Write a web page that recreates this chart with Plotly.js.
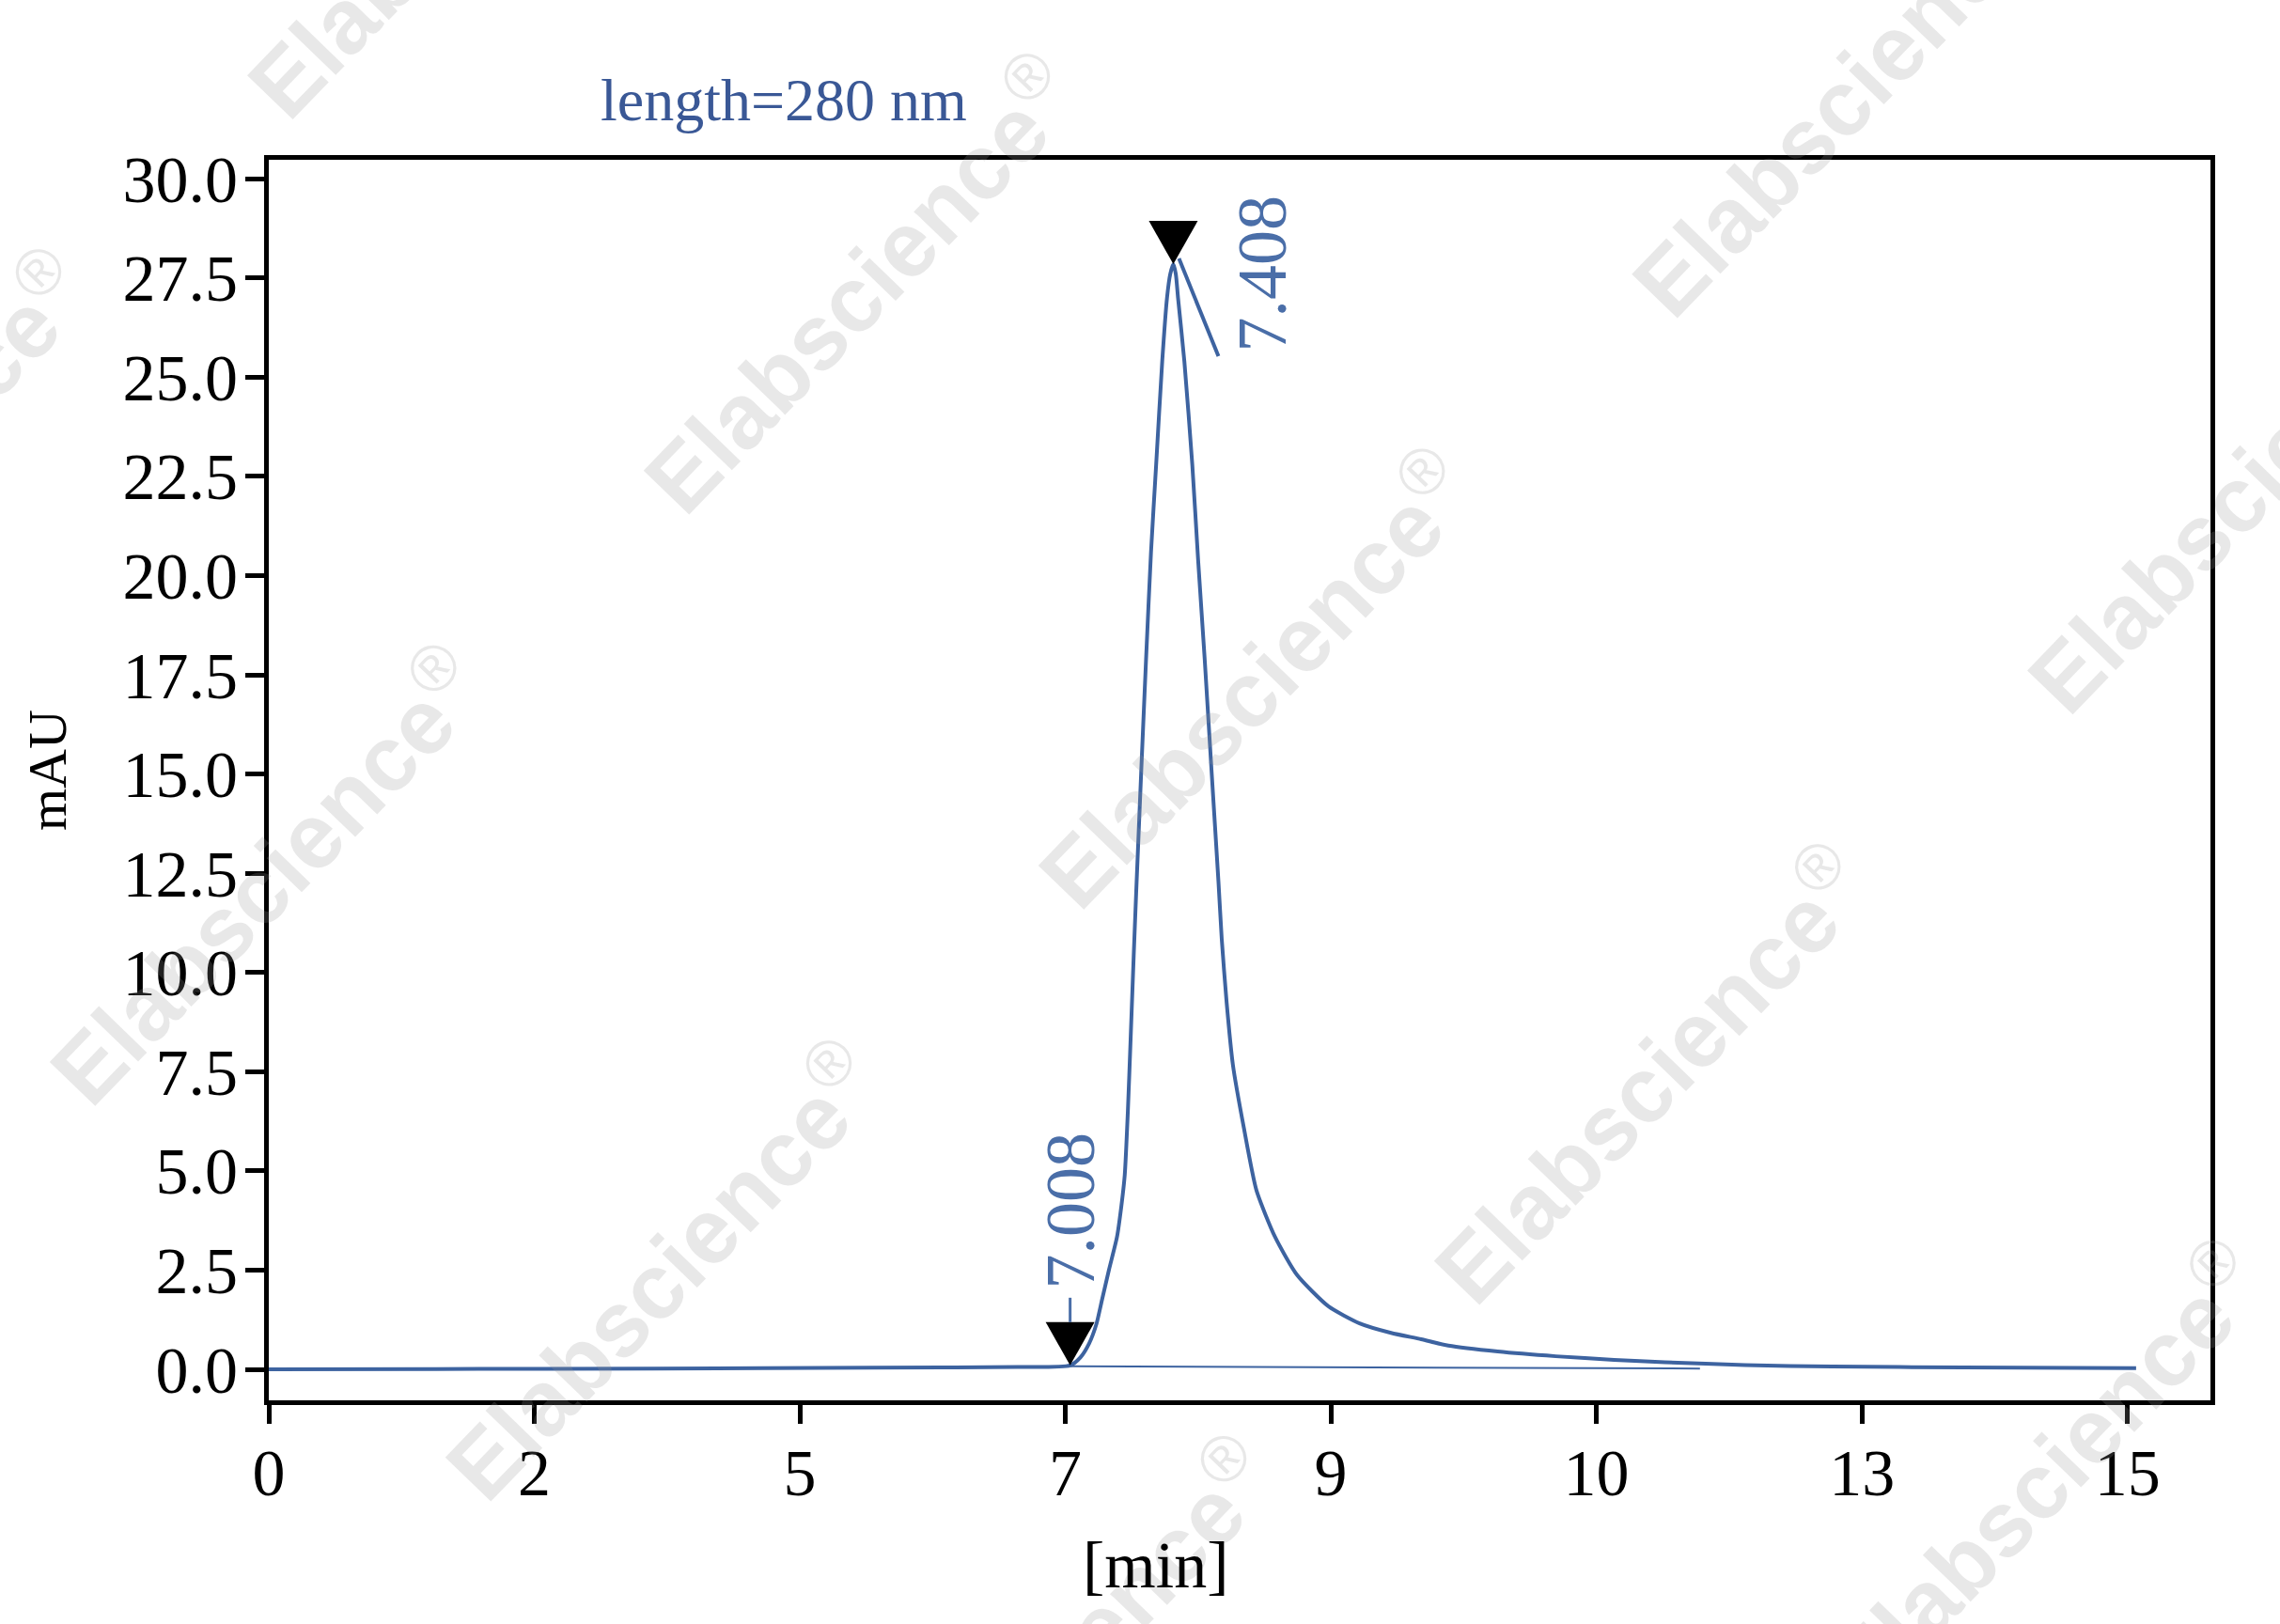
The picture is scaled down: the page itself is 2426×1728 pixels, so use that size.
<!DOCTYPE html>
<html>
<head>
<meta charset="utf-8">
<script src="https://cdn.plot.ly/plotly-3.0.1.min.js"></script>
<style>html,body{margin:0;padding:0;background:#fff;}#chart{width:2426px;height:1728px;}</style>
</head>
<body>
<div id="chart"></div>
<script>
// Chromatogram signal (time in min on the chart's 0–15 scale, absorbance in mAU)
const timeMin = [0.000, 1.35, 3.11, 4.87, 6.04, 6.467, 6.55, 6.62, 6.68, 6.725, 6.78, 6.845, 6.88, 6.908, 6.933,
  6.955, 6.98, 7.00, 7.04, 7.08, 7.12, 7.161, 7.211, 7.249, 7.275, 7.300, 7.320, 7.338, 7.389, 7.453,
  7.50, 7.553, 7.61, 7.664, 7.691, 7.730, 7.781, 7.869, 7.971, 8.122, 8.298, 8.551, 8.803, 9.057,
  9.30, 9.519, 9.918, 10.387, 10.857, 11.268, 11.913, 12.617, 13.674, 15.070];
const absorbance = [0.00, 0.01, 0.02, 0.04, 0.06, 0.10, 0.30, 0.65, 1.15, 1.76, 2.5, 3.33, 4.1, 4.9, 6.5,
  8.3, 10.4, 12.0, 15.0, 17.9, 20.6, 22.78, 25.43, 27.0, 27.6, 27.85, 27.6, 27.0, 25.4, 22.8,
  20.4, 17.9, 15.0, 12.3, 10.83, 9.25, 7.67, 6.09, 4.51, 3.33, 2.38, 1.59, 1.16, 0.92,
  0.76, 0.60, 0.45, 0.33, 0.24, 0.18, 0.11, 0.07, 0.05, 0.03];

// Peak markers
const peakTimes = [6.467, 7.300];
const peakValues = [0.10, 27.85];
const peakLabels = ["7.008", "7.408"];

// Integration baseline
const baselineTime = [6.467, 11.55];
const baselineValue = [0.08, 0.02];

// Axis ticks
const xTickLabels = ["0", "2", "5", "7", "9", "10", "13", "15"];
const yTickValues = [0, 2.5, 5, 7.5, 10, 12.5, 15, 17.5, 20, 22.5, 25, 27.5, 30];

const xMax = 15;
const xTickVals = xTickLabels.map((_, i) => i * xMax / (xTickLabels.length - 1));

const serif = "Liberation Serif, Times New Roman, serif";
const lineBlue = "#3d63a0";
const labelBlue = "#4a6ea8";

const traces = [
  {x: timeMin, y: absorbance, type: "scatter", mode: "lines",
   line: {color: lineBlue, width: 4, shape: "spline", smoothing: 0.6}, hoverinfo: "skip", showlegend: false},
  {x: baselineTime, y: baselineValue, type: "scatter", mode: "lines",
   line: {color: lineBlue, width: 2}, hoverinfo: "skip", showlegend: false}
];

// Watermark positions (paper coords)
const wmX = [0.0997, 0.3035, 0.507, 0.7106, 0.9143, -0.2057, -0.0021, 0.2014, 0.405, 0.8127, 1.016];
const wmY = [1.219, 0.900, 0.5818, 0.2629, -0.056, 0.7424, 0.4235, 0.1045, -0.214, 1.058, 0.739];

const annotations = [];
wmX.forEach((x, i) => annotations.push({
  xref: "paper", yref: "paper", x: x, y: wmY[i], xanchor: "center", yanchor: "middle",
  text: "<b>Elabscience</b><sup>®</sup>", textangle: -46, showarrow: false,
  font: {family: "Liberation Sans, Arial, sans-serif", size: 98, color: "rgba(150,150,150,0.22)"}
}));

// Peak labels
annotations.push({xref: "x", yref: "y", x: peakTimes[0], y: peakValues[0], xshift: 0, yshift: 165,
  text: peakLabels[0], textangle: -90, showarrow: false, xanchor: "center", yanchor: "middle",
  font: {family: serif, size: 74, color: labelBlue}});
annotations.push({xref: "x", yref: "y", x: peakTimes[1], y: peakValues[1], xshift: 95, yshift: -10,
  text: peakLabels[1], textangle: -90, showarrow: false, xanchor: "center", yanchor: "middle",
  font: {family: serif, size: 74, color: labelBlue}});

// Axis titles
annotations.push({xref: "paper", yref: "paper", x: 0.457, y: -0.133, xanchor: "center", yanchor: "middle",
  text: "[min]", showarrow: false, font: {family: serif, size: 70, color: "#000"}});
annotations.push({xref: "paper", yref: "paper", x: -0.1137, y: 0.5076, xanchor: "center", yanchor: "middle",
  text: "mAU", textangle: -90, showarrow: false, font: {family: serif, size: 58, color: "#000"}});

// Marker triangles (pixel-sized, anchored at peak data points)
const shapes = [];
peakTimes.forEach((t, i) => {
  shapes.push({type: "path", xref: "x", yref: "y", xsizemode: "pixel", ysizemode: "pixel",
    xanchor: t, yanchor: peakValues[i], path: "M-26,46 L26,46 L0,0 Z",
    fillcolor: "#000", line: {width: 0}});
});
// leader lines
shapes.push({type: "line", xref: "x", yref: "y", xsizemode: "pixel", ysizemode: "pixel",
  xanchor: peakTimes[0], yanchor: peakValues[0], x0: 0, x1: 0, y0: 46, y1: 72,
  line: {color: labelBlue, width: 3}});
shapes.push({type: "line", xref: "x", yref: "y", xsizemode: "pixel", ysizemode: "pixel",
  xanchor: peakTimes[1], yanchor: peakValues[1], x0: 6, x1: 48, y0: 6, y1: -98,
  line: {color: lineBlue, width: 4}});

const layout = {
  width: 2426, height: 1728,
  margin: {l: 286, r: 74, t: 170, b: 238, pad: 0},
  paper_bgcolor: "#fff", plot_bgcolor: "#fff",
  showlegend: false,
  title: {text: "length=280 nm", xref: "paper", x: 0.2652, xanchor: "center",
          yref: "container", y: 0.939, yanchor: "middle",
          font: {family: serif, size: 64, color: "#3a5896"}},
  xaxis: {range: [0, 15.67], tickvals: xTickVals, ticktext: xTickLabels,
          showline: true, mirror: true, linecolor: "#000", linewidth: 5,
          ticks: "outside", ticklen: 20, tickwidth: 5, tickcolor: "#000",
          ticklabelstandoff: -8,
          showgrid: false, zeroline: false,
          tickfont: {family: serif, size: 70, color: "#000"}},
  yaxis: {range: [-0.78, 30.48], tickvals: yTickValues, tickformat: ".1f",
          showline: true, mirror: true, linecolor: "#000", linewidth: 5,
          ticks: "outside", ticklen: 20, tickwidth: 5, tickcolor: "#000",
          ticklabelstandoff: -6,
          showgrid: false, zeroline: false,
          tickfont: {family: serif, size: 70, color: "#000"}},
  annotations: annotations,
  shapes: shapes
};

Plotly.newPlot("chart", traces, layout, {staticPlot: true, displayModeBar: false});
</script>
</body>
</html>
